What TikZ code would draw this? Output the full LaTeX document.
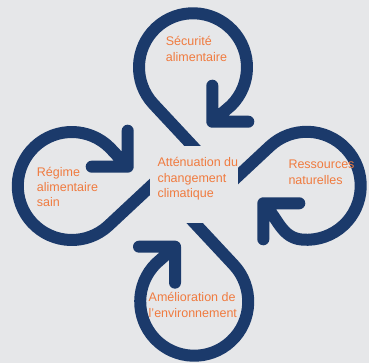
\documentclass[tikz,border=0pt]{standalone}
\usepackage{fontspec}
\setmainfont{Liberation Sans}

\definecolor{navy}{HTML}{1B3A6B}
\definecolor{tangerine}{HTML}{F07B3F}
\definecolor{paper}{HTML}{E6E7E9}

\begin{document}
\begin{tikzpicture}[
  x=1pt, y=1pt,
  font=\fontsize{12.5}{15.4}\selectfont,
  swirl/.style={draw=navy, line width=12pt, line cap=round, line join=round},
  hub/.style={rectangle, fill=paper, minimum width=88pt, minimum height=77pt, inner sep=0pt},
  theme/.style={text=tangerine, align=left, inner sep=0pt, anchor=north west},
]

\fill[paper] (0,0) rectangle (369,363);
\useasboundingbox (0,0) rectangle (369,363);
\coordinate (o) at (194,178.5);

% top loop
\draw[swirl] (208.1,200.4) -- (153.5,258.9)
  arc[start angle=223, end angle=-45, radius=54]
  -- (212.3,241.3) coordinate (tipN) ++(0,36) -- (tipN) -- ++(36,0);
% right loop
\draw[swirl] (211.4,162.1) -- (269.9,216.7)
  arc[start angle=133, end angle=-95, radius=54]
  to[out=175, in=-45] (263.3,159.7) coordinate (tipE) ++(36,0) -- (tipE) -- ++(0,-36);
% bottom loop
\draw[swirl] (179.1,156.6) -- (233.7,98.1)
  arc[start angle=43, end angle=-225, radius=54]
  -- (175,116.3) coordinate (tipS) ++(0,-36) -- (tipS) -- ++(-36,0);
% left loop
\draw[swirl] (167.1,192.1) -- (108.6,137.5)
  arc[start angle=313, end angle=45, radius=54]
  -- (127.7,196.3) coordinate (tipW) ++(-36,0) -- (tipW) -- ++(0,36);

% open the middle
\node[hub] (hub) at (o) {};

\node[theme] (mitigation)  at (157.3,205.6) {Atténuation du\\changement\\climatique};
\node[theme] (security)    at (165.7,326.6) {Sécurité\\alimentaire};
\node[theme] (resources)   at (288.3,203.0) {Ressources\\naturelles};
\node[theme] (environment) at (148.5,70.6)  {Amélioration de\\l’environnement};
\node[theme] (diet)        at (36.7,196.3)  {Régime\\alimentaire\\sain};

\end{tikzpicture}
\end{document}
